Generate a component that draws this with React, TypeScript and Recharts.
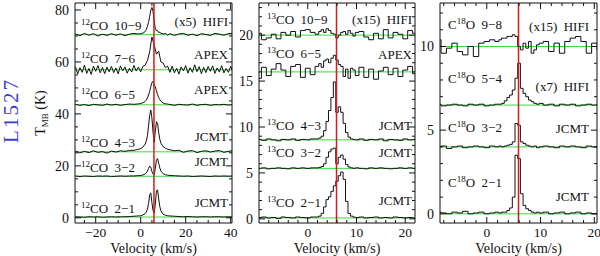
import { LineChart, Line, XAxis, YAxis, ReferenceLine } from 'recharts';

const VLSR = 5.9;

// ---- 12CO panel ----
const VEL_12CO = [-29, -27, -25, -23, -21, -19, -17, -15, -13, -11, -9, -7, -5, -3, -1.5, 0, 1, 2, 2.5, 3, 3.5, 4, 4.5, 5, 5.5, 6, 6.5, 7, 7.5, 8, 8.5, 9, 9.5, 10, 11, 12, 13, 15, 17, 19, 21, 23, 25, 27, 29, 31, 33, 35, 37, 39, 41];
// the noisy APEX 7-6 spectrum is sampled on a finer grid
const VEL_12CO_FINE = [-29, -28, -27, -26, -25, -24, -23, -22, -21, -20, -19, -18, -17, -16, -15, -14, -13, -12, -11, -10, -9, -8, -7, -6, -5, -4, -3, -2, -1, 0, 1, 2, 3, 4, 5, 6, 7, 8, 9, 10, 11, 12, 13, 14, 15, 16, 17, 18, 19, 20, 21, 22, 23, 24, 25, 26, 27, 28, 29, 30, 31, 32, 33, 34, 35, 36, 37, 38, 39, 40, 41];
const CO12_10_9 = [0.3, -0.4, 0.5, -0.2, 0.4, -0.5, 0.2, -0.3, 0.4, -0.2, 0.3, -0.4, 0.2, 0.5, 0.3, 0.4, 0.6, 1.2, 2.0, 3.2, 4.8, 7.0, 9.5, 10.5, 9.0, 5.0, 2.5, 1.5, 1.6, 0.8, 1.0, 0.4, 0.6, 0.2, 0.5, -0.2, 0.4, -0.3, 0.3, 0.5, -0.2, 0.2, -0.4, 0.4, 0.1, -0.3, 0.5, 0.2, -0.2, 0.4, 0.6];
const CO12_7_6 = [1.2, -1.6, 0.8, -1.0, 1.8, -1.4, 0.5, -1.8, 1.4, -0.6, 1.6, -1.2, 0.9, -1.5, 1.0, -0.8, 1.3, -1.1, 0.7, -1.6, 1.5, -0.4, 1.1, -1.3, 0.6, -0.9, 1.7, -0.5, 1.0, -0.8, 1.3, 1.8, 3.5, 7.0, 12.6, 9.5, 6.0, 7.2, 3.0, 2.6, 0.8, 1.4, -1.0, 1.4, -1.2, 0.6, -1.7, 1.1, -0.4, 1.6, -1.3, 0.8, -1.0, 1.9, -0.7, 1.2, -1.5, 0.9, -1.1, 1.3, -0.6, 1.5, -1.4, 0.7, -0.9, 1.6, -1.2, 0.5, -1.0, 1.3, -0.8];
const CO12_6_5 = [0.2, -0.2, 0.1, -0.3, 0.2, 0.0, -0.2, 0.3, -0.1, 0.2, -0.2, 0.1, 0.3, 0.2, 0.3, 0.5, 0.8, 1.3, 1.8, 2.6, 3.8, 5.2, 7.0, 8.6, 9.0, 7.6, 7.0, 5.4, 4.0, 2.8, 2.0, 1.4, 1.0, 0.7, 0.4, 0.3, 0.1, -0.2, 0.2, 0.0, -0.1, 0.3, -0.2, 0.1, 0.2, -0.2, 0.1, 0.0, 0.2, -0.1, 0.1];
const CO12_4_3 = [0.3, -0.4, 0.2, -0.3, 0.4, -0.2, 0.1, -0.5, 0.3, -0.1, 0.4, 0.2, 0.5, 0.6, 0.9, 1.2, 1.8, 3.0, 4.2, 6.2, 10.0, 14.0, 16.1, 13.0, 7.5, 3.6, 8.0, 11.6, 11.0, 7.5, 4.8, 3.3, 2.6, 2.0, 1.4, 1.0, 0.8, 0.4, 0.6, -0.2, 0.3, 0.5, -0.3, 0.2, 0.4, -0.1, 0.3, 0.5, -0.2, 0.2, 0.4];
const CO12_3_2 = [0.1, -0.1, 0.1, 0.0, -0.1, 0.1, 0.0, 0.1, -0.1, 0.0, 0.1, 0.0, 0.1, 0.1, 0.2, 0.3, 0.5, 0.9, 1.3, 2.0, 3.0, 3.9, 3.5, 1.8, 0.8, 0.5, 3.0, 6.2, 6.8, 5.0, 3.2, 2.0, 1.4, 1.0, 0.6, 0.4, 0.3, 0.2, 0.1, 0.0, 0.1, -0.1, 0.0, 0.1, 0.0, -0.1, 0.1, 0.0, 0.1, 0.0, 0.1];
const CO12_2_1 = [0.1, 0.0, -0.1, 0.1, 0.0, 0.1, -0.1, 0.0, 0.1, 0.0, 0.1, 0.1, 0.2, 0.3, 0.4, 0.5, 0.8, 1.3, 1.9, 3.0, 5.2, 8.5, 9.3, 5.5, 2.5, 1.5, 5.0, 10.0, 10.5, 7.0, 4.0, 2.4, 1.6, 1.1, 0.7, 0.5, 0.4, 0.3, 0.2, 0.1, 0.2, 0.1, 0.0, 0.1, 0.1, 0.0, 0.1, 0.1, 0.0, 0.1, 0.0];
const OFFSETS_12CO = [70.5, 57, 43.5, 25.4, 16, 0.3];
const NAMES_12CO = ['10−9', '7−6', '6−5', '4−3', '3−2', '2−1'];
const TELS_12CO = ['(x5)  HIFI', 'APEX', 'APEX', 'JCMT', 'JCMT', 'JCMT'];

// ---- 13CO panel ----
const VEL_13CO = [-10, -9, -8, -7, -6, -5, -4, -3, -2, -1, 0, 1, 2, 2.5, 3, 3.5, 4, 4.5, 5, 5.5, 6, 6.5, 7, 7.5, 8, 8.5, 9, 9.5, 10, 11, 12, 13, 14, 15, 16, 17, 18, 19, 20, 21, 22];
const CO13_10_9 = [0.2, -0.5, -0.3, 0.1, -0.4, 0.3, 0.0, 0.4, -0.2, 0.5, 0.6, 0.3, 0.1, 0.4, 0.6, 0.3, 0.7, 0.5, 0.2, 0.1, -0.3, 0.0, 0.3, 0.4, 0.1, 0.5, 0.2, -0.1, 0.3, 0.4, -0.2, -0.5, 0.2, -0.4, 0.6, -0.3, 0.3, 0.1, -0.4, 0.5, 0.2];
const CO13_6_5 = [-0.7, 0.5, -0.4, 0.3, 0.9, 0.2, -0.5, 0.6, 0.8, -0.6, 0.4, -0.3, 0.6, 0.9, 0.5, 1.2, 1.4, 1.0, 1.5, 1.8, 1.3, 0.8, 0.6, -0.5, 0.3, -0.7, 0.4, 0.2, -0.4, 0.5, -0.6, 0.3, -0.8, 0.1, 0.5, -0.3, 0.4, -0.5, 0.2, 0.6, -0.2];
const CO13_4_3 = [0.05, -0.05, 0.1, 0.0, -0.1, 0.05, 0.0, 0.1, -0.05, 0.05, 0.0, 0.1, 0.1, 0.2, 0.4, 1.0, 2.0, 3.2, 4.6, 6.3, 3.0, 3.6, 3.0, 1.8, 0.8, 0.3, 0.1, 0.05, 0.0, 0.1, -0.05, 0.05, 0.0, 0.1, -0.1, 0.05, 0.0, -0.05, 0.1, 0.0, 0.05];
const CO13_3_2 = [0.0, 0.05, -0.05, 0.0, 0.05, 0.0, -0.05, 0.05, 0.0, 0.05, 0.0, 0.05, 0.05, 0.1, 0.2, 0.5, 1.2, 1.8, 2.1, 2.2, 0.5, 1.2, 1.45, 1.0, 0.4, 0.15, 0.05, 0.0, 0.05, 0.0, -0.05, 0.05, 0.0, 0.05, 0.0, -0.05, 0.0, 0.05, 0.0, 0.05, 0.0];
const CO13_2_1 = [0.05, 0.1, 0.0, 0.05, -0.05, 0.1, 0.05, 0.0, 0.1, 0.05, 0.0, 0.1, 0.1, 0.2, 0.5, 1.2, 2.0, 2.3, 2.9, 3.5, 4.0, 4.6, 5.0, 4.2, 1.8, 0.5, 0.2, 0.1, 0.05, 0.1, 0.0, 0.05, 0.1, 0.0, 0.05, 0.0, 0.1, 0.05, 0.0, 0.05, 0.0];
const OFFSETS_13CO = [20, 16, 8.6, 5.5, 0.1];
const NAMES_13CO = ['10−9', '6−5', '4−3', '3−2', '2−1'];
const TELS_13CO = ['(x15)  HIFI', 'APEX', 'JCMT', 'JCMT', 'JCMT'];

// ---- C18O panel ----
const VEL_C18O = [-9, -8, -7, -6, -5, -4, -3, -2, -1, 0, 1, 2, 2.5, 3, 3.5, 4, 4.5, 5, 5.5, 6, 6.5, 7, 7.5, 8, 8.5, 9, 9.5, 10, 11, 12, 13, 14, 15, 16, 17, 18, 19, 20, 21];
const C18O_9_8 = [0.4, -0.4, -0.1, 0.2, -0.3, -0.5, 0.0, -0.6, 0.2, 0.3, 0.4, 0.3, 0.4, 0.5, 0.5, 0.6, 0.6, 0.7, 0.6, 0.0, -0.2, 0.2, -0.1, 0.3, -0.4, -0.2, 0.1, 0.2, 0.3, -0.3, 0.2, -0.4, 0.3, 0.5, 0.6, 0.3, -0.4, 0.2, -0.2];
const C18O_5_4 = [0.05, -0.05, 0.0, 0.05, 0.0, -0.05, 0.05, 0.0, 0.05, -0.05, 0.0, 0.05, 0.05, 0.1, 0.25, 0.45, 0.6, 0.9, 1.6, 2.5, 1.0, 0.7, 0.5, 0.3, 0.2, 0.1, 0.05, 0.1, 0.0, 0.05, -0.05, 0.05, 0.0, 0.05, -0.05, 0.0, 0.05, 0.0, 0.05];
const C18O_3_2 = [0.0, 0.05, -0.1, 0.0, 0.05, -0.05, 0.0, 0.05, 0.0, -0.05, 0.05, 0.0, 0.05, 0.0, 0.05, 0.1, 0.15, 0.3, 1.4, 1.3, 0.3, 0.2, 0.1, 0.05, 0.0, 0.05, -0.05, 0.0, 0.05, 0.0, -0.05, 0.05, 0.0, 0.05, 0.0, -0.05, 0.05, 0.0, 0.05];
const C18O_2_1 = [0.1, 0.05, 0.0, 0.1, 0.05, 0.15, 0.0, 0.05, 0.1, 0.0, 0.05, 0.1, 0.05, 0.1, 0.1, 0.2, 0.35, 1.0, 3.5, 3.3, 1.2, 0.5, 0.3, 0.2, 0.1, 0.05, 0.1, 0.05, 0.1, 0.0, 0.05, 0.1, 0.0, 0.05, 0.1, 0.0, 0.05, 0.0, 0.05];
const OFFSETS_C18O = [10, 6.5, 4, 0];
const NAMES_C18O = ['9−8', '5−4', '3−2', '2−1'];
const TELS_C18O = ['(x15)  HIFI', '(x7)  HIFI', 'JCMT', 'JCMT'];

// ticks
const X_TICKS_12CO = [-25, -20, -15, -10, -5, 0, 5, 10, 15, 20, 25, 30, 35, 40];
const X_MAJOR_12CO = [-20, 0, 20, 40];
const Y_TICKS_12CO = [0, 5, 10, 15, 20, 25, 30, 35, 40, 45, 50, 55, 60, 65, 70, 75, 80];
const Y_MAJOR_12CO = [0, 20, 40, 60, 80];
const X_TICKS_13CO = [-8, -6, -4, -2, 0, 2, 4, 6, 8, 10, 12, 14, 16, 18, 20];
const X_MAJOR_13CO = [0, 10, 20];
const Y_TICKS_13CO = [0, 1, 2, 3, 4, 5, 6, 7, 8, 9, 10, 11, 12, 13, 14, 15, 16, 17, 18, 19, 20, 21, 22, 23];
const Y_MAJOR_13CO = [0, 5, 10, 15, 20];
const X_TICKS_C18O = [-8, -6, -4, -2, 0, 2, 4, 6, 8, 10, 12, 14, 16, 18, 20];
const X_MAJOR_C18O = [0, 10, 20];
const Y_TICKS_C18O = [0, 1, 2, 3, 4, 5, 6, 7, 8, 9, 10, 11, 12];
const Y_MAJOR_C18O = [0, 5, 10];

const FONT = '"Liberation Serif", "DejaVu Serif", serif';
const INK = '#111';

const fmt = (v: number) => (v < 0 ? '−' + Math.abs(v) : String(v));

function makeTick(side: string, majors: number[], labels: boolean) {
  return (props: any) => {
    const { x, y, payload } = props;
    const v = payload.value;
    const major = majors.includes(v);
    const len = major ? 6 : 3;
    let line;
    if (side === 'bottom') line = <line x1={x} y1={y} x2={x} y2={y - len} stroke={INK} />;
    else if (side === 'top') line = <line x1={x} y1={y} x2={x} y2={y + len} stroke={INK} />;
    else if (side === 'left') line = <line x1={x} y1={y} x2={x + len} y2={y} stroke={INK} />;
    else line = <line x1={x} y1={y} x2={x - len} y2={y} stroke={INK} />;
    let label = null;
    if (labels && major) {
      if (side === 'bottom')
        label = <text x={x} y={y + 14} textAnchor="middle" fontFamily={FONT} fontSize={13.5} fill={INK}>{fmt(v)}</text>;
      if (side === 'left')
        label = <text x={x - 6} y={y + 5} textAnchor="end" fontFamily={FONT} fontSize={14} fill={INK}>{fmt(v)}</text>;
    }
    return (
      <g>
        {line}
        {label}
      </g>
    );
  };
}

function Panel({ left, width, margin, vels, spectra, offsets, xDomain, yDomain, xTicks, xMajors, yTicks, yMajors, lineType }: any) {
  return (
    <div style={{ position: 'absolute', left, top: 0 }}>
      <LineChart width={width} height={256} margin={margin}>
        <XAxis dataKey="v" type="number" domain={xDomain} allowDataOverflow ticks={xTicks} interval={0}
          height={1} tickSize={0} tickMargin={0} stroke={INK} tick={makeTick('bottom', xMajors, true)} />
        <XAxis xAxisId="top" orientation="top" dataKey="v" type="number" domain={xDomain} allowDataOverflow ticks={xTicks} interval={0}
          height={1} tickSize={0} tickMargin={0} stroke={INK} tick={makeTick('top', xMajors, false)} />
        <YAxis type="number" domain={yDomain} allowDataOverflow ticks={yTicks} interval={0}
          width={1} tickSize={0} tickMargin={0} stroke={INK} tick={makeTick('left', yMajors, true)} />
        <YAxis yAxisId="right" orientation="right" type="number" domain={yDomain} allowDataOverflow ticks={yTicks} interval={0}
          width={1} tickSize={0} tickMargin={0} stroke={INK} tick={makeTick('right', yMajors, false)} />
        {offsets.map((o: number, i: number) => (
          <ReferenceLine key={'g' + i} y={o} stroke="#3ed83e" strokeWidth={1} />
        ))}
        {spectra.map((vals: number[], i: number) => (
          <Line
            key={'s' + i}
            data={vels[i].map((v: number, j: number) => ({ v, t: vals[j] + offsets[i] }))}
            dataKey="t"
            type={lineType}
            stroke={INK}
            strokeWidth={1}
            dot={false}
            isAnimationActive={false}
          />
        ))}
        <ReferenceLine x={VLSR} stroke="#cc1f1f" strokeWidth={1.5} />
      </LineChart>
    </div>
  );
}

function SpecLabel({ x, y, pre, sup, post }: any) {
  return (
    <text x={x} y={y} fontFamily={FONT} fontSize={13} fill={INK}>
      {pre ? <tspan>{pre}</tspan> : null}
      <tspan fontSize={9} dy={-5}>{sup}</tspan>
      <tspan dy={5} style={{ whiteSpace: 'pre' }}>{post}</tspan>
    </text>
  );
}

function TelLabel({ x, y, text }: any) {
  return (
    <text x={x} y={y} textAnchor="end" fontFamily={FONT} fontSize={13} fill={INK} style={{ whiteSpace: 'pre' }}>
      {text}
    </text>
  );
}

// label baselines
const LAB_12CO_Y = [30, 63, 99, 147, 172, 213];
const TEL_12CO_Y = [26, 59, 94, 141, 166, 207];
const LAB_13CO_Y = [24, 58, 130, 157, 207];
const TEL_13CO_Y = [24, 59, 130, 157, 205];
const LAB_C18O_Y = [29, 83, 132, 187];
const TEL_C18O_Y = [31, 91, 133, 201];

export default function App() {
  const v12 = [VEL_12CO, VEL_12CO_FINE, VEL_12CO, VEL_12CO, VEL_12CO, VEL_12CO];
  return (
    <div style={{ position: 'absolute', left: 0, top: 0, width: 600, height: 256, background: '#fff', overflow: 'hidden' }}>
      <Panel left={0} width={240} margin={{ left: 74, right: 7, top: 2, bottom: 32 }}
        vels={v12} spectra={[CO12_10_9, CO12_7_6, CO12_6_5, CO12_4_3, CO12_3_2, CO12_2_1]} offsets={OFFSETS_12CO}
        xDomain={[-29.2, 40.6]} yDomain={[-2, 82.7]} xTicks={X_TICKS_12CO} xMajors={X_MAJOR_12CO}
        yTicks={Y_TICKS_12CO} yMajors={Y_MAJOR_12CO} lineType="linear" />
      <Panel left={240} width={180} margin={{ left: 18, right: 4, top: 2, bottom: 32 }}
        vels={OFFSETS_13CO.map(() => VEL_13CO)} spectra={[CO13_10_9, CO13_6_5, CO13_4_3, CO13_3_2, CO13_2_1]} offsets={OFFSETS_13CO}
        xDomain={[-10, 22]} yDomain={[-0.45, 23.5]} xTicks={X_TICKS_13CO} xMajors={X_MAJOR_13CO}
        yTicks={Y_TICKS_13CO} yMajors={Y_MAJOR_13CO} lineType="step" />
      <Panel left={420} width={180} margin={{ left: 19, right: 2, top: 2, bottom: 32 }}
        vels={OFFSETS_C18O.map(() => VEL_C18O)} spectra={[C18O_9_8, C18O_5_4, C18O_3_2, C18O_2_1]} offsets={OFFSETS_C18O}
        xDomain={[-8.7, 20.5]} yDomain={[-0.55, 12.6]} xTicks={X_TICKS_C18O} xMajors={X_MAJOR_C18O}
        yTicks={Y_TICKS_C18O} yMajors={Y_MAJOR_C18O} lineType="step" />
      <svg width={600} height={256} style={{ position: 'absolute', left: 0, top: 0, pointerEvents: 'none' }}>
        {NAMES_12CO.map((n, i) => (
          <SpecLabel key={'a' + i} x={81} y={LAB_12CO_Y[i]} sup="12" post={'CO  ' + n} />
        ))}
        {TELS_12CO.map((t, i) => (
          <TelLabel key={'b' + i} x={228} y={TEL_12CO_Y[i]} text={t} />
        ))}
        {NAMES_13CO.map((n, i) => (
          <SpecLabel key={'c' + i} x={267} y={LAB_13CO_Y[i]} sup="13" post={'CO  ' + n} />
        ))}
        {TELS_13CO.map((t, i) => (
          <TelLabel key={'d' + i} x={412} y={TEL_13CO_Y[i]} text={t} />
        ))}
        {NAMES_C18O.map((n, i) => (
          <SpecLabel key={'e' + i} x={448} y={LAB_C18O_Y[i]} pre="C" sup="18" post={'O  ' + n} />
        ))}
        {TELS_C18O.map((t, i) => (
          <TelLabel key={'f' + i} x={589} y={TEL_C18O_Y[i]} text={t} />
        ))}
        <text x={153.5} y={253} textAnchor="middle" fontFamily={FONT} fontSize={14} fill={INK}>Velocity (km/s)</text>
        <text x={337} y={253} textAnchor="middle" fontFamily={FONT} fontSize={14} fill={INK}>Velocity (km/s)</text>
        <text x={518.5} y={253} textAnchor="middle" fontFamily={FONT} fontSize={14} fill={INK}>Velocity (km/s)</text>
        <text transform="translate(45,113) rotate(-90)" textAnchor="middle" fontFamily={FONT} fontSize={14} fill={INK}>
          T<tspan fontSize={9} dy={3}>MB</tspan><tspan dy={-3}> (K)</tspan>
        </text>
        <text transform="translate(18,110.5) rotate(-90)" textAnchor="middle" fontFamily={FONT} fontSize={21} letterSpacing={2} fill="#3d3dd6">L1527</text>
      </svg>
    </div>
  );
}
